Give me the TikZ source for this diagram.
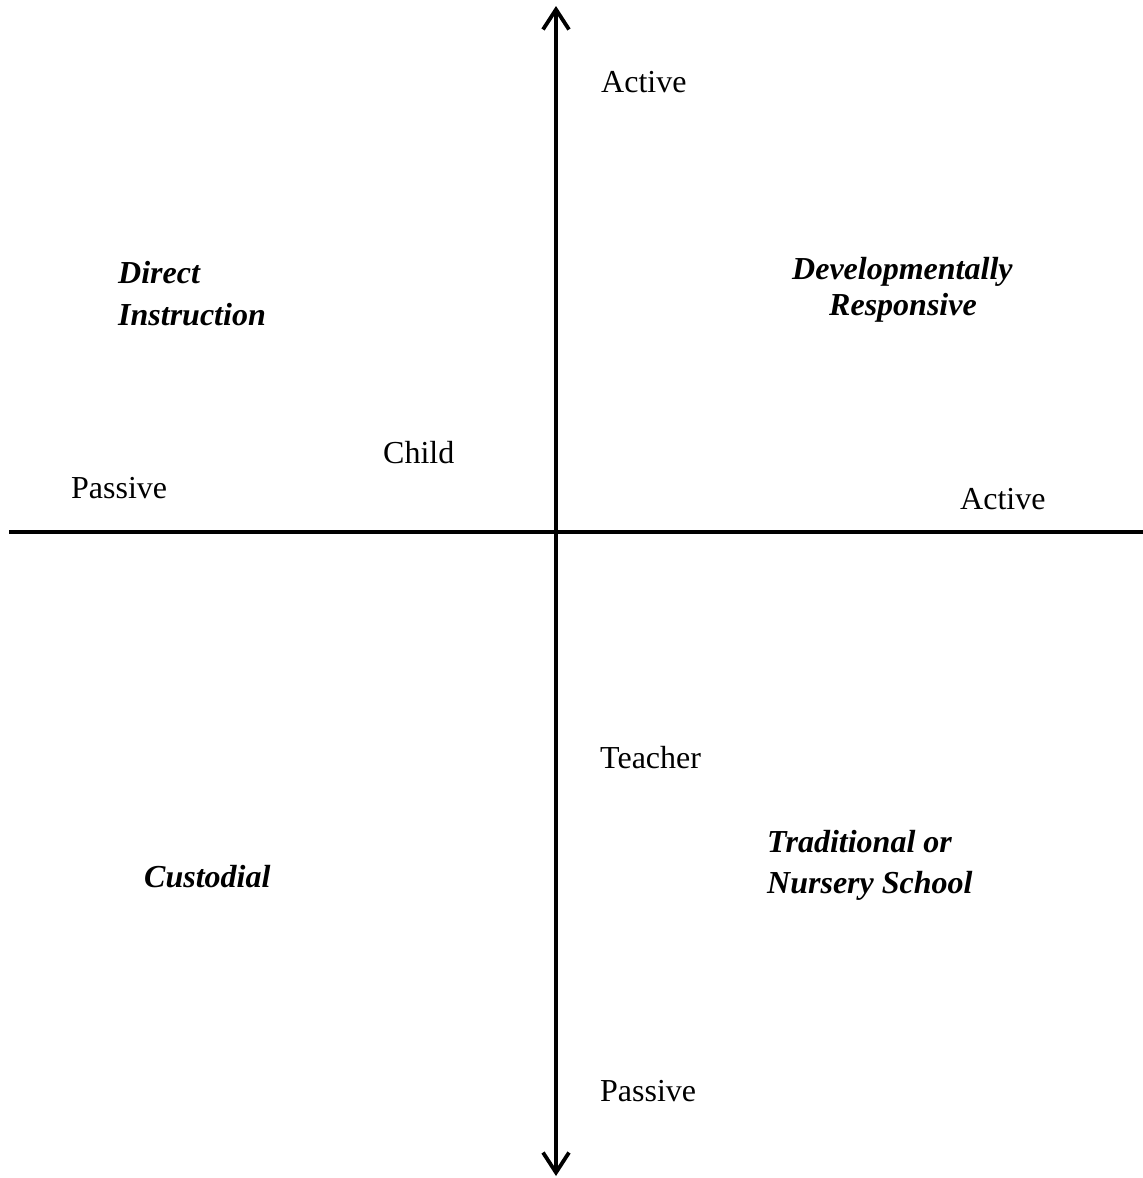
\documentclass[tikz,border=0pt]{standalone}
\usepackage{fontspec}
\setmainfont{Liberation Serif}
\usetikzlibrary{arrows.meta}
\begin{document}
\begin{tikzpicture}[x=1pt,y=-1pt,
  lbl/.style={anchor=base west,inner sep=0pt,font=\fontsize{32}{36}\selectfont},
  quad/.style={anchor=base west,inner sep=0pt,font=\fontsize{32}{36}\selectfont\bfseries\itshape},
  axis/.style={line width=3.5pt},
  tip/.style={-{Straight Barb[length=20pt,width=26pt,line width=3.8pt]}}]
\useasboundingbox (0,0) rectangle (1143,1178);
\coordinate (vtop) at (556,6);
\coordinate (vbot) at (556,1176);
\coordinate (vmid) at (556,532);
\coordinate (hl) at (9,532);
\coordinate (hr) at (1143,532);
\draw[axis] (hl) -- (hr);
\draw[axis,tip] (vmid) -- (vtop);
\draw[axis,tip] (vmid) -- (vbot);
\node[lbl] (activeT) at (601,92) {Active};
\node[lbl] (passiveB) at (600,1101) {Passive};
\node[lbl] (passiveL) at (71,498) {Passive};
\node[lbl] (activeR) at (960,509) {Active};
\node[lbl] (child) at (383,463) {Child};
\node[lbl] (teacher) at (600,768) {Teacher};
\node[quad] (di1) at (118,283) {Direct};
\node[quad] (di2) at (118,325) {Instruction};
\node[quad] (dr1) at (792,279) {Developmentally};
\node[quad] (dr2) at (829,315) {Responsive};
\node[quad] (cu) at (144,887) {Custodial};
\node[quad] (tn1) at (767,852) {Traditional or};
\node[quad] (tn2) at (767,893) {Nursery School};
\end{tikzpicture}
\end{document}
